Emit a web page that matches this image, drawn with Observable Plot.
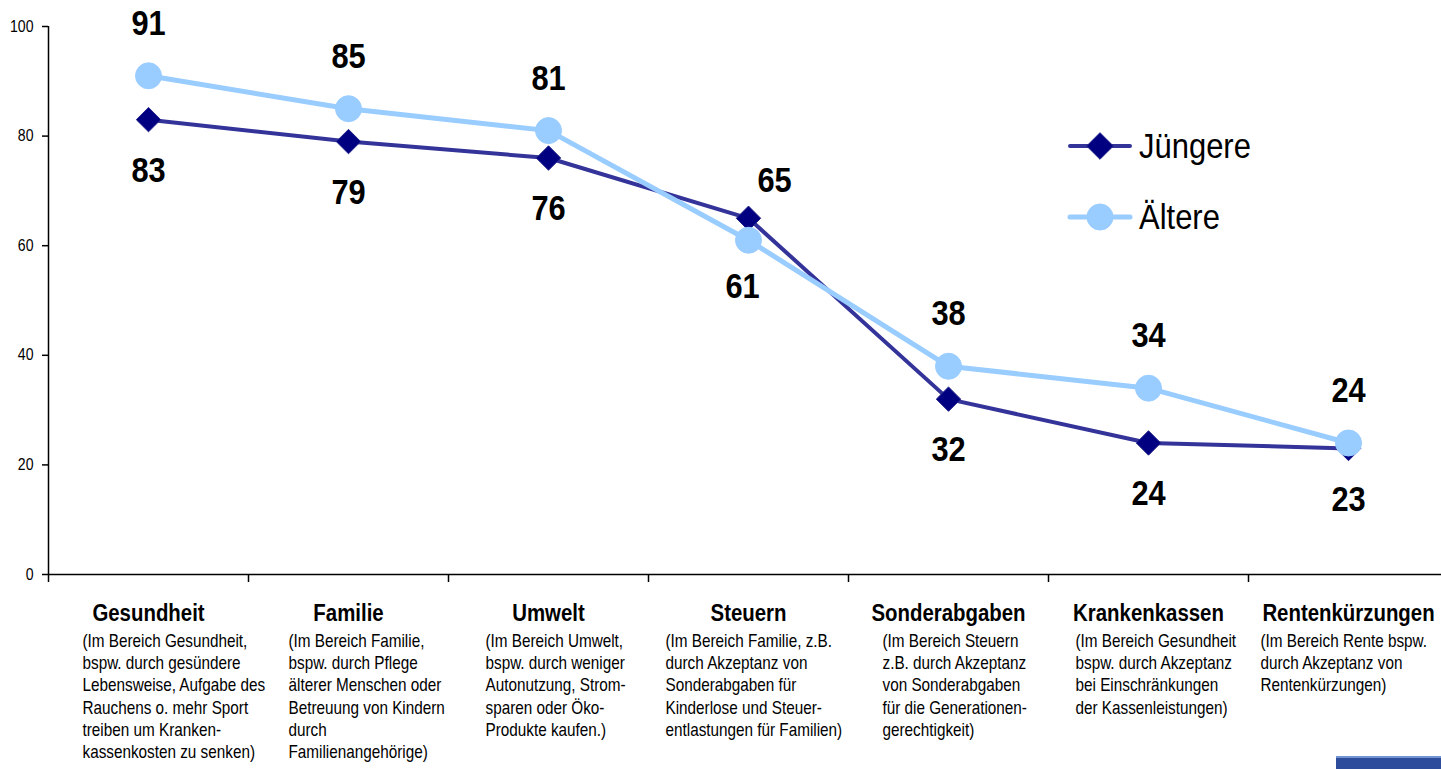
<!DOCTYPE html>
<html>
<head>
<meta charset="utf-8">
<script src="https://cdn.jsdelivr.net/npm/d3@7"></script>
<script src="https://cdn.jsdelivr.net/npm/@observablehq/plot@0.6"></script>
<style>
  html, body { margin: 0; padding: 0; background: #fff; overflow: hidden; }
  #chart { position: relative; width: 1441px; height: 769px; }
  #chart svg { max-width: none; }
  .corner-band {
    position: absolute; left: 1336px; top: 756px; width: 105px; height: 13px;
    background: #2d4d9c; border-top: 2px solid #7393d3; box-sizing: border-box;
  }
</style>
</head>
<body>
<div id="chart"><div class="corner-band"></div></div>
<script>
// Areas in which people would accept cutbacks, by age group (percent)
const categories = ["Gesundheit", "Familie", "Umwelt", "Steuern", "Sonderabgaben", "Krankenkassen", "Rentenkürzungen"];
const notes = [
  "(Im Bereich Gesundheit,\nbspw. durch gesündere\nLebensweise, Aufgabe des\nRauchens o. mehr Sport\ntreiben um Kranken-\nkassenkosten zu senken)",
  "(Im Bereich Familie,\nbspw. durch Pflege\nälterer Menschen oder\nBetreuung von Kindern\ndurch\nFamilienangehörige)",
  "(Im Bereich Umwelt,\nbspw. durch weniger\nAutonutzung, Strom-\nsparen oder Öko-\nProdukte kaufen.)",
  "(Im Bereich Familie, z.B.\ndurch Akzeptanz von\nSonderabgaben für\nKinderlose und Steuer-\nentlastungen für Familien)",
  "(Im Bereich Steuern\nz.B. durch Akzeptanz\nvon Sonderabgaben\nfür die Generationen-\ngerechtigkeit)",
  "(Im Bereich Gesundheit\nbspw. durch Akzeptanz\nbei Einschränkungen\nder Kassenleistungen)",
  "(Im Bereich Rente bspw.\ndurch Akzeptanz von\nRentenkürzungen)"
];
const seriesNames = ["Jüngere", "Ältere"];
const juengere = [83, 79, 76, 65, 32, 24, 23];
const aeltere = [91, 85, 81, 61, 38, 34, 24];
const yTicks = [0, 20, 40, 60, 80, 100];

// ---- layout & styling ----
const W = 1441, H = 769;
const FONT = "'Liberation Sans', Arial, sans-serif";
// horizontal condensing per font size, to get a narrow sans look
const condense = {16: 0.88, 18: 0.85, 24: 0.85, 35: 0.88};
const noteShift = [-66, -60, -63, -83, -66, -73, -88];   // left edge of each note block relative to its category
const labelNudge = {"Steuern|Jüngere": {dx: 26, dy: 14}, "Steuern|Ältere": {dx: -6, dy: -4}};
const styleOf = {
  "Jüngere": {line: "#333399", width: 4, fill: "#000080", stroke: "#22228a", symbol: "diamond2", r: 11},
  "Ältere":  {line: "#99CCFF", width: 5, fill: "#99CCFF", stroke: "#99CCFF", symbol: "circle", r: 13}
};

const values = {"Jüngere": juengere, "Ältere": aeltere};
const rows = seriesNames.flatMap(s => values[s].map((v, i) => ({i, cat: categories[i], series: s, value: v})));
// the higher series at a category gets its label above the point, the lower one below
rows.forEach(d => {
  const other = rows.find(o => o.i === d.i && o.series !== d.series);
  d.above = d.value > other.value;
});

const n = categories.length;

const seriesMarks = seriesNames.flatMap(s => {
  const st = styleOf[s];
  const data = rows.filter(d => d.series === s);
  return [
    Plot.line(data, {x: "i", y: "value", stroke: st.line, strokeWidth: st.width, strokeLinejoin: "round"}),
    Plot.dot(data, {x: "i", y: "value", symbol: st.symbol, r: st.r, fill: st.fill, stroke: st.stroke, strokeWidth: 1})
  ];
});

const labelMarks = rows.map(d => {
  const nd = labelNudge[d.cat + "|" + d.series] || {dx: 0, dy: 0};
  return Plot.text([d], {
    x: "i", y: "value", text: r => String(r.value),
    dx: nd.dx, dy: (d.above ? -52 : 51) + nd.dy,
    fontSize: 35, fontWeight: "bold", fill: "#000", lineAnchor: "middle"
  });
});

const noteMarks = notes.map((t, i) => Plot.text([t], {
  x: [i], text: d => d, frameAnchor: "bottom", dy: 57, dx: noteShift[i],
  textAnchor: "start", lineAnchor: "top", lineHeight: 1.23, fontSize: 18, fill: "#000"
}));

const plot = Plot.plot({
  width: W, height: H,
  marginLeft: 48, marginRight: 0, marginTop: 26, marginBottom: 195,
  style: {fontFamily: FONT, fontSize: "16px", color: "#000", background: "#fff", overflow: "hidden"},
  x: {type: "linear", domain: [-0.5, n - 0.5], range: [48, 1448]},
  y: {domain: [0, 100]},
  marks: [
    Plot.axisY({ticks: yTicks, tickSize: 6, tickPadding: 9, fontSize: 16, label: null, strokeWidth: 1.5}),
    Plot.axisX({ticks: d3.range(-0.5, n, 1), tickSize: 8, tickFormat: () => "", label: null, strokeWidth: 1.5}),
    Plot.ruleX([-0.5], {y1: 0, y2: 100, stroke: "#000", strokeWidth: 1.5}),
    Plot.ruleY([0], {x1: -0.5, x2: n - 0.5, stroke: "#000", strokeWidth: 1.5}),
    ...seriesMarks,
    ...labelMarks,
    Plot.text(categories, {x: (d, i) => i, text: d => d, frameAnchor: "bottom", dy: 39,
      fontSize: 24, fontWeight: "bold", lineAnchor: "middle", fill: "#000"}),
    ...noteMarks
  ]
});

// squeeze every text horizontally about its own anchor point
function squeeze(t, s) {
  const x = parseFloat(t.getAttribute("x")) || 0;
  const y = parseFloat(t.getAttribute("y")) || 0;
  const tr = t.getAttribute("transform") || "";
  t.setAttribute("transform", `${tr} translate(${x},${y}) scale(${s},1) translate(${-x},${-y})`);
}
document.getElementById("chart").prepend(plot);
plot.querySelectorAll("text").forEach(t => {
  const fs = Math.round(parseFloat(getComputedStyle(t).fontSize));
  if (condense[fs]) squeeze(t, condense[fs]);
});

// legend, top right inside the plot area
const lg = d3.select(plot).append("g").attr("font-family", FONT).attr("text-anchor", "start");
seriesNames.forEach((s, k) => {
  const st = styleOf[s];
  const cy = 146 + k * 71;
  lg.append("line").attr("x1", 1070).attr("x2", 1130).attr("y1", cy).attr("y2", cy)
    .attr("stroke", st.line).attr("stroke-width", st.width).attr("stroke-linecap", "round");
  const sym = st.symbol === "diamond2" ? d3.symbolDiamond2 : d3.symbolCircle;
  const r = st.symbol === "diamond2" ? 12 : 13;
  lg.append("path").attr("transform", `translate(1100,${cy})`)
    .attr("d", d3.symbol(sym, Math.PI * r * r)())
    .attr("fill", st.fill).attr("stroke", st.stroke);
  const t = lg.append("text").attr("x", 1139).attr("y", cy + 12.5).attr("font-size", 35)
    .attr("fill", "#000").text(s);
  squeeze(t.node(), 0.885);
});
</script>
</body>
</html>
